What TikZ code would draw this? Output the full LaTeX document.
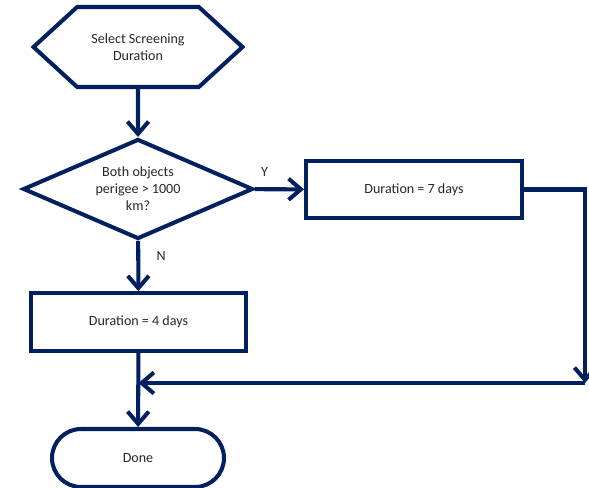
\documentclass[tikz,border=0pt]{standalone}
\usepackage{fontspec}
\setmainfont{Carlito}
\usepackage{tikz}
\usetikzlibrary{positioning,arrows.meta,shapes.geometric,shapes.symbols}
\definecolor{flownavy}{RGB}{0, 32, 96}
\definecolor{flowtext}{RGB}{40, 40, 40}
\tikzset{
    flow shape/.style={draw=flownavy, line width=2.3pt, fill=white, text=flowtext, align=center, inner sep=1pt, font=\fontsize{8}{9.6}\selectfont},
    prep box/.style={flow shape, signal, signal to=east and west, signal pointer angle=85, minimum width=4.18cm, minimum height=1.6cm},
    decision box/.style={flow shape, diamond, aspect=2.3, minimum width=4.6cm, minimum height=2cm, inner sep=0pt},
    process box/.style={flow shape, rectangle, minimum height=1.15cm},
    end box/.style={flow shape, rectangle, rounded corners=0.58cm, minimum width=3.44cm, minimum height=1.16cm},
    flow arrow/.style={draw=flownavy, line width=2.3pt, -{Straight Barb[length=7pt, width=12pt, line width=2.3pt]}},
    branch label/.style={text=flowtext, font=\fontsize{8}{9.6}\selectfont}
}
\begin{document}
\begin{tikzpicture}
    \useasboundingbox (0,0) rectangle (11.78,-9.76);

    % Start
    \node[prep box] (select) at (2.76,-0.94) {Select Screening\\Duration};

    % Decision
    \node[decision box] (perigee) at (2.76,-3.78) {Both objects\\perigee > 1000\\km?};

    % Branches
    \node[process box, minimum width=4.32cm] (seven) at (8.28,-3.79) {Duration = 7 days};
    \node[process box, minimum width=4.3cm] (four) at (2.77,-6.44) {Duration = 4 days};

    % End
    \node[end box] (done) at (2.76,-9.16) {Done};

    % Corner points of the return path
    \coordinate (corner) at (11.7,-3.79);
    \coordinate (turn) at (11.7,-7.66);
    \coordinate (merge) at (2.77,-7.66);

    % Connectors
    \draw[flow arrow] (select) -- (perigee);
    \draw[flow arrow] (perigee) -- node[branch label, above=3pt, pos=0.2] {Y} (seven);
    \draw[flow arrow] (perigee) -- node[branch label, right=6pt, pos=0.3] {N} (four);
    \draw[flow arrow] (seven.east) -- (corner) -- (turn);
    \draw[flow arrow] (turn) -- (merge);
    \draw[flow arrow] (four) -- (done);
\end{tikzpicture}
\end{document}
